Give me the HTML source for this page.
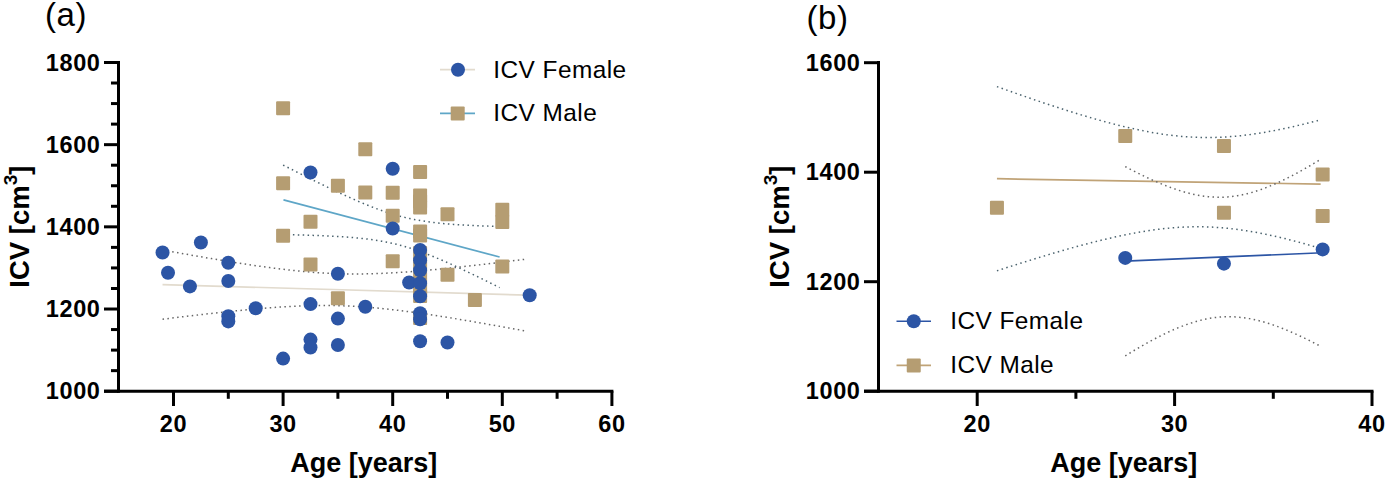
<!DOCTYPE html>
<html><head><meta charset="utf-8"><title>ICV vs Age</title>
<style>
html,body{margin:0;padding:0;background:#fff;}
body{width:1387px;height:480px;overflow:hidden;}
svg{display:block;}
text{font-family:"Liberation Sans",sans-serif;fill:#000;}
.tk{font-size:23.5px;font-weight:bold;letter-spacing:0.6px;}
.tt{font-size:27px;font-weight:bold;}
.sup{font-size:19px;}
.lg{font-size:24.4px;letter-spacing:0.45px;}
.pl{font-size:33px;letter-spacing:0.6px;}
</style></head>
<body>
<svg width="1387" height="480" viewBox="0 0 1387 480">
<rect width="1387" height="480" fill="#fff"/>
<line x1="162.54" y1="284.59" x2="527" y2="295.16" stroke="#e2dbce" stroke-width="1.7"/>
<line x1="283.5" y1="199.93" x2="499.6" y2="257.03" stroke="#5ea6c7" stroke-width="1.7"/>
<polyline points="162.54,249.94 165.6,250.5 168.67,251.06 171.73,251.61 174.79,252.16 177.85,252.72 180.92,253.26 183.98,253.81 187.04,254.35 190.1,254.9 193.17,255.44 196.23,255.97 199.29,256.51 202.35,257.04 205.42,257.56 208.48,258.09 211.54,258.61 214.61,259.13 217.67,259.64 220.73,260.15 223.79,260.66 226.86,261.16 229.92,261.66 232.98,262.15 236.04,262.64 239.11,263.12 242.17,263.6 245.23,264.07 248.3,264.54 251.36,264.99 254.42,265.45 257.48,265.89 260.55,266.33 263.61,266.76 266.67,267.19 269.73,267.6 272.8,268.01 275.86,268.4 278.92,268.79 281.98,269.16 285.05,269.53 288.11,269.88 291.17,270.23 294.24,270.56 297.3,270.88 300.36,271.18 303.42,271.47 306.49,271.75 309.55,272.01 312.61,272.26 315.67,272.49 318.74,272.71 321.8,272.9 324.86,273.09 327.93,273.25 330.99,273.4 334.05,273.53 337.11,273.65 340.18,273.75 343.24,273.82 346.3,273.89 349.36,273.93 352.43,273.96 355.49,273.97 358.55,273.96 361.61,273.93 364.68,273.89 367.74,273.84 370.8,273.77 373.87,273.68 376.93,273.58 379.99,273.47 383.05,273.34 386.12,273.19 389.18,273.04 392.24,272.87 395.3,272.7 398.37,272.51 401.43,272.31 404.49,272.1 407.56,271.88 410.62,271.65 413.68,271.41 416.74,271.16 419.81,270.91 422.87,270.65 425.93,270.38 428.99,270.1 432.06,269.82 435.12,269.53 438.18,269.24 441.24,268.94 444.31,268.63 447.37,268.32 450.43,268.01 453.5,267.69 456.56,267.36 459.62,267.03 462.68,266.7 465.75,266.36 468.81,266.02 471.87,265.68 474.93,265.33 478,264.98 481.06,264.63 484.12,264.27 487.19,263.91 490.25,263.55 493.31,263.18 496.37,262.82 499.44,262.45 502.5,262.08 505.56,261.7 508.62,261.33 511.69,260.95 514.75,260.57 517.81,260.19 520.87,259.81 523.94,259.42 527,259.04" fill="none" stroke="#666666" stroke-width="1.5" stroke-dasharray="1.5 3.4"/>
<polyline points="162.54,319.25 165.6,318.87 168.67,318.49 171.73,318.11 174.79,317.73 177.85,317.36 180.92,316.99 183.98,316.62 187.04,316.25 190.1,315.89 193.17,315.53 196.23,315.17 199.29,314.81 202.35,314.46 205.42,314.11 208.48,313.76 211.54,313.42 214.61,313.08 217.67,312.74 220.73,312.41 223.79,312.08 226.86,311.76 229.92,311.44 232.98,311.12 236.04,310.81 239.11,310.51 242.17,310.21 245.23,309.91 248.3,309.63 251.36,309.34 254.42,309.07 257.48,308.8 260.55,308.54 263.61,308.29 266.67,308.04 269.73,307.81 272.8,307.58 275.86,307.36 278.92,307.15 281.98,306.95 285.05,306.76 288.11,306.59 291.17,306.42 294.24,306.27 297.3,306.13 300.36,306 303.42,305.89 306.49,305.79 309.55,305.7 312.61,305.63 315.67,305.58 318.74,305.54 321.8,305.52 324.86,305.51 327.93,305.53 330.99,305.55 334.05,305.6 337.11,305.66 340.18,305.75 343.24,305.84 346.3,305.96 349.36,306.09 352.43,306.24 355.49,306.41 358.55,306.6 361.61,306.8 364.68,307.02 367.74,307.25 370.8,307.5 373.87,307.76 376.93,308.04 379.99,308.33 383.05,308.64 386.12,308.96 389.18,309.29 392.24,309.64 395.3,309.99 398.37,310.36 401.43,310.74 404.49,311.12 407.56,311.52 410.62,311.93 413.68,312.34 416.74,312.77 419.81,313.2 422.87,313.64 425.93,314.08 428.99,314.54 432.06,315 435.12,315.46 438.18,315.94 441.24,316.41 444.31,316.9 447.37,317.39 450.43,317.88 453.5,318.38 456.56,318.88 459.62,319.39 462.68,319.9 465.75,320.41 468.81,320.93 471.87,321.45 474.93,321.98 478,322.5 481.06,323.04 484.12,323.57 487.19,324.11 490.25,324.65 493.31,325.19 496.37,325.73 499.44,326.28 502.5,326.83 505.56,327.38 508.62,327.93 511.69,328.49 514.75,329.04 517.81,329.6 520.87,330.16 523.94,330.73 527,331.29" fill="none" stroke="#666666" stroke-width="1.5" stroke-dasharray="1.5 3.4"/>
<polyline points="283.1,165.06 285.29,166.17 287.47,167.29 289.66,168.4 291.85,169.5 294.03,170.61 296.22,171.72 298.41,172.82 300.59,173.92 302.78,175.01 304.97,176.11 307.16,177.2 309.34,178.29 311.53,179.37 313.72,180.45 315.9,181.53 318.09,182.61 320.28,183.68 322.46,184.74 324.65,185.81 326.84,186.86 329.02,187.91 331.21,188.96 333.4,190 335.58,191.04 337.77,192.07 339.96,193.09 342.15,194.1 344.33,195.11 346.52,196.11 348.71,197.1 350.89,198.09 353.08,199.06 355.27,200.02 357.45,200.97 359.64,201.91 361.83,202.84 364.01,203.75 366.2,204.65 368.39,205.54 370.57,206.41 372.76,207.26 374.95,208.1 377.14,208.92 379.32,209.72 381.51,210.5 383.7,211.26 385.88,212 388.07,212.72 390.26,213.41 392.44,214.08 394.63,214.73 396.82,215.36 399,215.96 401.19,216.53 403.38,217.09 405.56,217.61 407.75,218.12 409.94,218.6 412.13,219.06 414.31,219.5 416.5,219.91 418.69,220.3 420.87,220.68 423.06,221.03 425.25,221.36 427.43,221.68 429.62,221.98 431.81,222.27 433.99,222.53 436.18,222.79 438.37,223.03 440.55,223.26 442.74,223.47 444.93,223.67 447.12,223.87 449.3,224.05 451.49,224.22 453.68,224.39 455.86,224.54 458.05,224.69 460.24,224.83 462.42,224.96 464.61,225.09 466.8,225.21 468.98,225.32 471.17,225.43 473.36,225.53 475.54,225.63 477.73,225.72 479.92,225.81 482.11,225.9 484.29,225.98 486.48,226.05 488.67,226.13 490.85,226.2 493.04,226.26 495.23,226.33 497.41,226.39 499.6,226.45" fill="none" stroke="#4a626d" stroke-width="1.5" stroke-dasharray="1.5 3.4"/>
<polyline points="283.1,234.6 285.29,234.64 287.47,234.68 289.66,234.73 291.85,234.77 294.03,234.82 296.22,234.87 298.41,234.93 300.59,234.98 302.78,235.04 304.97,235.1 307.16,235.17 309.34,235.24 311.53,235.31 313.72,235.38 315.9,235.46 318.09,235.54 320.28,235.62 322.46,235.71 324.65,235.81 326.84,235.9 329.02,236.01 331.21,236.12 333.4,236.23 335.58,236.35 337.77,236.48 339.96,236.61 342.15,236.75 344.33,236.9 346.52,237.06 348.71,237.22 350.89,237.39 353.08,237.58 355.27,237.77 357.45,237.97 359.64,238.19 361.83,238.42 364.01,238.66 366.2,238.92 368.39,239.19 370.57,239.47 372.76,239.77 374.95,240.09 377.14,240.43 379.32,240.78 381.51,241.16 383.7,241.55 385.88,241.97 388.07,242.41 390.26,242.87 392.44,243.35 394.63,243.86 396.82,244.39 399,244.94 401.19,245.52 403.38,246.13 405.56,246.75 407.75,247.4 409.94,248.08 412.13,248.77 414.31,249.49 416.5,250.23 418.69,251 420.87,251.78 423.06,252.58 425.25,253.4 427.43,254.24 429.62,255.1 431.81,255.97 433.99,256.85 436.18,257.76 438.37,258.67 440.55,259.6 442.74,260.54 444.93,261.49 447.12,262.46 449.3,263.43 451.49,264.41 453.68,265.4 455.86,266.4 458.05,267.41 460.24,268.43 462.42,269.45 464.61,270.48 466.8,271.52 468.98,272.56 471.17,273.61 473.36,274.66 475.54,275.72 477.73,276.78 479.92,277.84 482.11,278.92 484.29,279.99 486.48,281.07 488.67,282.15 490.85,283.24 493.04,284.32 495.23,285.42 497.41,286.51 499.6,287.61" fill="none" stroke="#4a626d" stroke-width="1.5" stroke-dasharray="1.5 3.4"/>
<rect x="276.1" y="101.3" width="14" height="14" rx="1" fill="#b59d72"/>
<rect x="276.1" y="176.3" width="14" height="14" rx="1" fill="#b59d72"/>
<rect x="276.1" y="228.7" width="14" height="14" rx="1" fill="#b59d72"/>
<rect x="303.5" y="214.7" width="14" height="14" rx="1" fill="#b59d72"/>
<rect x="303.5" y="257.4" width="14" height="14" rx="1" fill="#b59d72"/>
<rect x="330.9" y="178.7" width="14" height="14" rx="1" fill="#b59d72"/>
<rect x="330.9" y="291.2" width="14" height="14" rx="1" fill="#b59d72"/>
<rect x="358.3" y="142.2" width="14" height="14" rx="1" fill="#b59d72"/>
<rect x="358.3" y="185.4" width="14" height="14" rx="1" fill="#b59d72"/>
<rect x="385.7" y="185.8" width="14" height="14" rx="1" fill="#b59d72"/>
<rect x="385.7" y="208.7" width="14" height="14" rx="1" fill="#b59d72"/>
<rect x="385.7" y="254.2" width="14" height="14" rx="1" fill="#b59d72"/>
<rect x="413.1" y="165" width="14" height="14" rx="1" fill="#b59d72"/>
<rect x="413.1" y="188.5" width="14" height="14" rx="1" fill="#b59d72"/>
<rect x="413.1" y="194.5" width="14" height="14" rx="1" fill="#b59d72"/>
<rect x="413.1" y="200.5" width="14" height="14" rx="1" fill="#b59d72"/>
<rect x="413.1" y="224.5" width="14" height="14" rx="1" fill="#b59d72"/>
<rect x="413.1" y="228.5" width="14" height="14" rx="1" fill="#b59d72"/>
<rect x="413.1" y="246" width="14" height="14" rx="1" fill="#b59d72"/>
<rect x="413.1" y="259" width="14" height="14" rx="1" fill="#b59d72"/>
<rect x="413.1" y="272" width="14" height="14" rx="1" fill="#b59d72"/>
<rect x="413.1" y="284" width="14" height="14" rx="1" fill="#b59d72"/>
<rect x="413.1" y="289" width="14" height="14" rx="1" fill="#b59d72"/>
<rect x="413.1" y="311" width="14" height="14" rx="1" fill="#b59d72"/>
<rect x="440.5" y="207.2" width="14" height="14" rx="1" fill="#b59d72"/>
<rect x="440.5" y="267.8" width="14" height="14" rx="1" fill="#b59d72"/>
<rect x="467.9" y="293" width="14" height="14" rx="1" fill="#b59d72"/>
<rect x="495.3" y="202.7" width="14" height="14" rx="1" fill="#b59d72"/>
<rect x="495.3" y="215" width="14" height="14" rx="1" fill="#b59d72"/>
<rect x="495.3" y="259.5" width="14" height="14" rx="1" fill="#b59d72"/>
<circle cx="162.54" cy="252.5" r="7" fill="#2c55a5"/>
<circle cx="168.02" cy="272.8" r="7" fill="#2c55a5"/>
<circle cx="189.94" cy="286.4" r="7" fill="#2c55a5"/>
<circle cx="200.9" cy="242.5" r="7" fill="#2c55a5"/>
<circle cx="228.3" cy="262.7" r="7" fill="#2c55a5"/>
<circle cx="228.3" cy="281" r="7" fill="#2c55a5"/>
<circle cx="228.3" cy="316.2" r="7" fill="#2c55a5"/>
<circle cx="228.3" cy="321.4" r="7" fill="#2c55a5"/>
<circle cx="255.7" cy="308.3" r="7" fill="#2c55a5"/>
<circle cx="283.1" cy="358.6" r="7" fill="#2c55a5"/>
<circle cx="310.5" cy="172.5" r="7" fill="#2c55a5"/>
<circle cx="310.5" cy="304.1" r="7" fill="#2c55a5"/>
<circle cx="310.5" cy="339.6" r="7" fill="#2c55a5"/>
<circle cx="310.5" cy="347.5" r="7" fill="#2c55a5"/>
<circle cx="337.9" cy="273.75" r="7" fill="#2c55a5"/>
<circle cx="337.9" cy="318.6" r="7" fill="#2c55a5"/>
<circle cx="337.9" cy="345" r="7" fill="#2c55a5"/>
<circle cx="365.3" cy="306.7" r="7" fill="#2c55a5"/>
<circle cx="392.7" cy="168.7" r="7" fill="#2c55a5"/>
<circle cx="392.7" cy="228.5" r="7" fill="#2c55a5"/>
<circle cx="409.14" cy="282.5" r="7" fill="#2c55a5"/>
<circle cx="420.1" cy="250" r="7" fill="#2c55a5"/>
<circle cx="420.1" cy="260.3" r="7" fill="#2c55a5"/>
<circle cx="420.1" cy="270.3" r="7" fill="#2c55a5"/>
<circle cx="420.1" cy="283.3" r="7" fill="#2c55a5"/>
<circle cx="420.1" cy="296.2" r="7" fill="#2c55a5"/>
<circle cx="420.1" cy="313.3" r="7" fill="#2c55a5"/>
<circle cx="420.1" cy="319.2" r="7" fill="#2c55a5"/>
<circle cx="420.1" cy="341.3" r="7" fill="#2c55a5"/>
<circle cx="447.5" cy="342.5" r="7" fill="#2c55a5"/>
<circle cx="529.7" cy="295.3" r="7" fill="#2c55a5"/>
<line x1="118.5" y1="61" x2="118.5" y2="392.7" stroke="#000000" stroke-width="3"/>
<line x1="104" y1="391.2" x2="613.4" y2="391.2" stroke="#000000" stroke-width="3"/>
<line x1="104" y1="391.2" x2="118.5" y2="391.2" stroke="#000000" stroke-width="3"/>
<line x1="104" y1="309.02" x2="118.5" y2="309.02" stroke="#000000" stroke-width="3"/>
<line x1="104" y1="226.84" x2="118.5" y2="226.84" stroke="#000000" stroke-width="3"/>
<line x1="104" y1="144.66" x2="118.5" y2="144.66" stroke="#000000" stroke-width="3"/>
<line x1="104" y1="62.48" x2="118.5" y2="62.48" stroke="#000000" stroke-width="3"/>
<line x1="111" y1="370.65" x2="118.5" y2="370.65" stroke="#000000" stroke-width="3"/>
<line x1="111" y1="350.11" x2="118.5" y2="350.11" stroke="#000000" stroke-width="3"/>
<line x1="111" y1="329.56" x2="118.5" y2="329.56" stroke="#000000" stroke-width="3"/>
<line x1="111" y1="288.48" x2="118.5" y2="288.48" stroke="#000000" stroke-width="3"/>
<line x1="111" y1="267.93" x2="118.5" y2="267.93" stroke="#000000" stroke-width="3"/>
<line x1="111" y1="247.38" x2="118.5" y2="247.38" stroke="#000000" stroke-width="3"/>
<line x1="111" y1="206.29" x2="118.5" y2="206.29" stroke="#000000" stroke-width="3"/>
<line x1="111" y1="185.75" x2="118.5" y2="185.75" stroke="#000000" stroke-width="3"/>
<line x1="111" y1="165.2" x2="118.5" y2="165.2" stroke="#000000" stroke-width="3"/>
<line x1="111" y1="124.12" x2="118.5" y2="124.12" stroke="#000000" stroke-width="3"/>
<line x1="111" y1="103.57" x2="118.5" y2="103.57" stroke="#000000" stroke-width="3"/>
<line x1="111" y1="83.02" x2="118.5" y2="83.02" stroke="#000000" stroke-width="3"/>
<line x1="173.5" y1="391.2" x2="173.5" y2="406" stroke="#000000" stroke-width="3"/>
<line x1="283.1" y1="391.2" x2="283.1" y2="406" stroke="#000000" stroke-width="3"/>
<line x1="392.7" y1="391.2" x2="392.7" y2="406" stroke="#000000" stroke-width="3"/>
<line x1="502.3" y1="391.2" x2="502.3" y2="406" stroke="#000000" stroke-width="3"/>
<line x1="611.9" y1="391.2" x2="611.9" y2="406" stroke="#000000" stroke-width="3"/>
<line x1="228.3" y1="391.2" x2="228.3" y2="398.8" stroke="#000000" stroke-width="3"/>
<line x1="337.9" y1="391.2" x2="337.9" y2="398.8" stroke="#000000" stroke-width="3"/>
<line x1="447.5" y1="391.2" x2="447.5" y2="398.8" stroke="#000000" stroke-width="3"/>
<line x1="557.1" y1="391.2" x2="557.1" y2="398.8" stroke="#000000" stroke-width="3"/>
<text x="173.5" y="432.3" class="tk" text-anchor="middle">20</text>
<text x="283.1" y="432.3" class="tk" text-anchor="middle">30</text>
<text x="392.7" y="432.3" class="tk" text-anchor="middle">40</text>
<text x="502.3" y="432.3" class="tk" text-anchor="middle">50</text>
<text x="611.9" y="432.3" class="tk" text-anchor="middle">60</text>
<text x="100.5" y="399.3" class="tk" text-anchor="end">1000</text>
<text x="100.5" y="317.12" class="tk" text-anchor="end">1200</text>
<text x="100.5" y="234.94" class="tk" text-anchor="end">1400</text>
<text x="100.5" y="152.76" class="tk" text-anchor="end">1600</text>
<text x="100.5" y="70.58" class="tk" text-anchor="end">1800</text>
<text x="363.7" y="471.8" class="tt" text-anchor="middle">Age [years]</text>
<text transform="translate(29.3,226.6) rotate(-90)" class="tt" style="font-size:27.5px" text-anchor="middle">ICV [cm<tspan class="sup" dy="-12.5">3</tspan><tspan dy="12.5">]</tspan></text>
<line x1="440" y1="69.7" x2="475" y2="69.7" stroke="#e2dbce" stroke-width="1.7"/>
<circle cx="458" cy="69.7" r="7" fill="#2c55a5"/>
<line x1="440" y1="113.3" x2="475" y2="113.3" stroke="#5ea6c7" stroke-width="1.7"/>
<rect x="450.7" y="106.4" width="14" height="14" rx="1" fill="#b59d72"/>
<text x="493.3" y="77.5" class="lg">ICV Female</text>
<text x="493.3" y="121.3" class="lg">ICV Male</text>
<text x="45" y="25.7" class="pl">(a)</text>
<line x1="996.94" y1="178.71" x2="1320.65" y2="184.12" stroke="#c0a377" stroke-width="1.7"/>
<line x1="1125.25" y1="261.21" x2="1322.65" y2="252.73" stroke="#2c55a5" stroke-width="1.7"/>
<polyline points="996.94,86.6 999.66,87.58 1002.37,88.55 1005.09,89.52 1007.8,90.48 1010.52,91.45 1013.24,92.4 1015.95,93.36 1018.67,94.31 1021.38,95.26 1024.1,96.2 1026.82,97.14 1029.53,98.08 1032.25,99.01 1034.96,99.94 1037.68,100.86 1040.4,101.78 1043.11,102.69 1045.83,103.6 1048.54,104.5 1051.26,105.4 1053.98,106.29 1056.69,107.18 1059.41,108.06 1062.13,108.93 1064.84,109.8 1067.56,110.66 1070.27,111.52 1072.99,112.37 1075.71,113.21 1078.42,114.04 1081.14,114.86 1083.85,115.68 1086.57,116.49 1089.29,117.29 1092,118.08 1094.72,118.86 1097.43,119.63 1100.15,120.39 1102.87,121.15 1105.58,121.89 1108.3,122.61 1111.01,123.33 1113.73,124.04 1116.45,124.73 1119.16,125.41 1121.88,126.08 1124.59,126.73 1127.31,127.37 1130.03,127.99 1132.74,128.6 1135.46,129.19 1138.17,129.77 1140.89,130.33 1143.61,130.87 1146.32,131.4 1149.04,131.91 1151.75,132.39 1154.47,132.86 1157.19,133.31 1159.9,133.74 1162.62,134.15 1165.34,134.53 1168.05,134.9 1170.77,135.24 1173.48,135.56 1176.2,135.86 1178.92,136.13 1181.63,136.38 1184.35,136.61 1187.06,136.81 1189.78,136.98 1192.5,137.14 1195.21,137.26 1197.93,137.36 1200.64,137.44 1203.36,137.49 1206.08,137.51 1208.79,137.51 1211.51,137.49 1214.22,137.44 1216.94,137.36 1219.66,137.26 1222.37,137.14 1225.09,136.99 1227.8,136.82 1230.52,136.62 1233.24,136.4 1235.95,136.16 1238.67,135.89 1241.38,135.61 1244.1,135.3 1246.82,134.97 1249.53,134.62 1252.25,134.25 1254.96,133.86 1257.68,133.45 1260.4,133.03 1263.11,132.58 1265.83,132.12 1268.55,131.64 1271.26,131.14 1273.98,130.63 1276.69,130.11 1279.41,129.56 1282.13,129.01 1284.84,128.44 1287.56,127.85 1290.27,127.26 1292.99,126.65 1295.71,126.03 1298.42,125.39 1301.14,124.75 1303.85,124.09 1306.57,123.42 1309.29,122.75 1312,122.06 1314.72,121.37 1317.43,120.66 1320.15,119.95" fill="none" stroke="#4a626d" stroke-width="1.5" stroke-dasharray="1.5 3.4"/>
<polyline points="996.94,270.82 999.66,269.93 1002.37,269.05 1005.09,268.18 1007.8,267.3 1010.52,266.43 1013.24,265.56 1015.95,264.7 1018.67,263.84 1021.38,262.98 1024.1,262.13 1026.82,261.28 1029.53,260.43 1032.25,259.59 1034.96,258.76 1037.68,257.92 1040.4,257.1 1043.11,256.27 1045.83,255.46 1048.54,254.64 1051.26,253.84 1053.98,253.04 1056.69,252.24 1059.41,251.45 1062.13,250.67 1064.84,249.89 1067.56,249.12 1070.27,248.35 1072.99,247.6 1075.71,246.85 1078.42,246.11 1081.14,245.37 1083.85,244.65 1086.57,243.93 1089.29,243.22 1092,242.52 1094.72,241.83 1097.43,241.15 1100.15,240.48 1102.87,239.82 1105.58,239.17 1108.3,238.53 1111.01,237.9 1113.73,237.29 1116.45,236.68 1119.16,236.1 1121.88,235.52 1124.59,234.96 1127.31,234.41 1130.03,233.88 1132.74,233.36 1135.46,232.86 1138.17,232.37 1140.89,231.9 1143.61,231.45 1146.32,231.01 1149.04,230.6 1151.75,230.2 1154.47,229.82 1157.19,229.46 1159.9,229.13 1162.62,228.81 1165.34,228.51 1168.05,228.24 1170.77,227.99 1173.48,227.76 1176.2,227.55 1178.92,227.37 1181.63,227.21 1184.35,227.08 1187.06,226.97 1189.78,226.88 1192.5,226.82 1195.21,226.79 1197.93,226.77 1200.64,226.79 1203.36,226.83 1206.08,226.9 1208.79,226.99 1211.51,227.1 1214.22,227.24 1216.94,227.41 1219.66,227.6 1222.37,227.82 1225.09,228.05 1227.8,228.32 1230.52,228.61 1233.24,228.92 1235.95,229.25 1238.67,229.6 1241.38,229.98 1244.1,230.38 1246.82,230.8 1249.53,231.24 1252.25,231.7 1254.96,232.18 1257.68,232.68 1260.4,233.2 1263.11,233.73 1265.83,234.29 1268.55,234.86 1271.26,235.44 1273.98,236.05 1276.69,236.66 1279.41,237.3 1282.13,237.94 1284.84,238.6 1287.56,239.28 1290.27,239.97 1292.99,240.67 1295.71,241.38 1298.42,242.1 1301.14,242.84 1303.85,243.59 1306.57,244.34 1309.29,245.11 1312,245.89 1314.72,246.67 1317.43,247.47 1320.15,248.27" fill="none" stroke="#4a626d" stroke-width="1.5" stroke-dasharray="1.5 3.4"/>
<polyline points="1125.25,166.58 1127.22,167.63 1129.19,168.66 1131.16,169.69 1133.12,170.7 1135.09,171.7 1137.06,172.7 1139.03,173.68 1141,174.65 1142.97,175.61 1144.94,176.55 1146.91,177.48 1148.87,178.4 1150.84,179.31 1152.81,180.2 1154.78,181.07 1156.75,181.93 1158.72,182.78 1160.69,183.6 1162.66,184.41 1164.62,185.2 1166.59,185.98 1168.56,186.73 1170.53,187.46 1172.5,188.18 1174.47,188.87 1176.44,189.54 1178.4,190.18 1180.37,190.81 1182.34,191.4 1184.31,191.98 1186.28,192.53 1188.25,193.05 1190.22,193.54 1192.19,194.01 1194.15,194.44 1196.12,194.85 1198.09,195.23 1200.06,195.57 1202.03,195.89 1204,196.17 1205.97,196.42 1207.93,196.64 1209.9,196.82 1211.87,196.97 1213.84,197.09 1215.81,197.17 1217.78,197.21 1219.75,197.22 1221.72,197.2 1223.68,197.13 1225.65,197.04 1227.62,196.9 1229.59,196.73 1231.56,196.53 1233.53,196.29 1235.5,196.01 1237.47,195.71 1239.43,195.36 1241.4,194.98 1243.37,194.57 1245.34,194.13 1247.31,193.65 1249.28,193.15 1251.25,192.61 1253.21,192.04 1255.18,191.44 1257.15,190.81 1259.12,190.16 1261.09,189.48 1263.06,188.77 1265.03,188.03 1267,187.27 1268.96,186.48 1270.93,185.67 1272.9,184.84 1274.87,183.99 1276.84,183.11 1278.81,182.21 1280.78,181.3 1282.74,180.36 1284.71,179.4 1286.68,178.43 1288.65,177.44 1290.62,176.43 1292.59,175.41 1294.56,174.37 1296.53,173.31 1298.49,172.24 1300.46,171.15 1302.43,170.06 1304.4,168.95 1306.37,167.82 1308.34,166.69 1310.31,165.54 1312.28,164.38 1314.24,163.21 1316.21,162.03 1318.18,160.84 1320.15,159.64" fill="none" stroke="#666666" stroke-width="1.5" stroke-dasharray="1.5 3.4"/>
<polyline points="1125.25,355.84 1127.22,354.63 1129.19,353.43 1131.16,352.23 1133.12,351.05 1135.09,349.88 1137.06,348.72 1139.03,347.57 1141,346.43 1142.97,345.3 1144.94,344.18 1146.91,343.08 1148.87,341.99 1150.84,340.92 1152.81,339.86 1154.78,338.82 1156.75,337.79 1158.72,336.77 1160.69,335.78 1162.66,334.8 1164.62,333.84 1166.59,332.9 1168.56,331.97 1170.53,331.07 1172.5,330.19 1174.47,329.33 1176.44,328.49 1178.4,327.68 1180.37,326.88 1182.34,326.12 1184.31,325.37 1186.28,324.66 1188.25,323.97 1190.22,323.3 1192.19,322.67 1194.15,322.06 1196.12,321.48 1198.09,320.94 1200.06,320.42 1202.03,319.94 1204,319.49 1205.97,319.07 1207.93,318.68 1209.9,318.33 1211.87,318.01 1213.84,317.72 1215.81,317.47 1217.78,317.26 1219.75,317.08 1221.72,316.94 1223.68,316.83 1225.65,316.76 1227.62,316.72 1229.59,316.72 1231.56,316.76 1233.53,316.83 1235.5,316.94 1237.47,317.07 1239.43,317.25 1241.4,317.46 1243.37,317.7 1245.34,317.97 1247.31,318.28 1249.28,318.62 1251.25,318.99 1253.21,319.39 1255.18,319.82 1257.15,320.27 1259.12,320.76 1261.09,321.27 1263.06,321.81 1265.03,322.38 1267,322.97 1268.96,323.59 1270.93,324.23 1272.9,324.89 1274.87,325.58 1276.84,326.28 1278.81,327.01 1280.78,327.76 1282.74,328.53 1284.71,329.31 1286.68,330.12 1288.65,330.94 1290.62,331.78 1292.59,332.64 1294.56,333.51 1296.53,334.39 1298.49,335.29 1300.46,336.21 1302.43,337.14 1304.4,338.08 1306.37,339.03 1308.34,340 1310.31,340.98 1312.28,341.97 1314.24,342.97 1316.21,343.98 1318.18,345 1320.15,346.03" fill="none" stroke="#666666" stroke-width="1.5" stroke-dasharray="1.5 3.4"/>
<rect x="989.94" y="200.79" width="14" height="14" rx="1" fill="#b59d72"/>
<rect x="1118.25" y="129.06" width="14" height="14" rx="1" fill="#b59d72"/>
<rect x="1216.95" y="138.92" width="14" height="14" rx="1" fill="#b59d72"/>
<rect x="1216.95" y="205.72" width="14" height="14" rx="1" fill="#b59d72"/>
<rect x="1315.65" y="167.39" width="14" height="14" rx="1" fill="#b59d72"/>
<rect x="1315.65" y="209" width="14" height="14" rx="1" fill="#b59d72"/>
<circle cx="1125.25" cy="257.88" r="7" fill="#2c55a5"/>
<circle cx="1223.95" cy="263.63" r="7" fill="#2c55a5"/>
<circle cx="1322.65" cy="249.4" r="7" fill="#2c55a5"/>
<line x1="878.5" y1="61" x2="878.5" y2="392.7" stroke="#000000" stroke-width="3"/>
<line x1="864" y1="391.2" x2="1373.5" y2="391.2" stroke="#000000" stroke-width="3"/>
<line x1="864" y1="391.2" x2="878.5" y2="391.2" stroke="#000000" stroke-width="3"/>
<line x1="864" y1="281.7" x2="878.5" y2="281.7" stroke="#000000" stroke-width="3"/>
<line x1="864" y1="172.2" x2="878.5" y2="172.2" stroke="#000000" stroke-width="3"/>
<line x1="864" y1="62.7" x2="878.5" y2="62.7" stroke="#000000" stroke-width="3"/>
<line x1="977.2" y1="391.2" x2="977.2" y2="406" stroke="#000000" stroke-width="3"/>
<line x1="1174.6" y1="391.2" x2="1174.6" y2="406" stroke="#000000" stroke-width="3"/>
<line x1="1372" y1="391.2" x2="1372" y2="406" stroke="#000000" stroke-width="3"/>
<line x1="1075.9" y1="391.2" x2="1075.9" y2="398.8" stroke="#000000" stroke-width="3"/>
<line x1="1273.3" y1="391.2" x2="1273.3" y2="398.8" stroke="#000000" stroke-width="3"/>
<text x="977.2" y="432.3" class="tk" text-anchor="middle">20</text>
<text x="1174.6" y="432.3" class="tk" text-anchor="middle">30</text>
<text x="1372" y="432.3" class="tk" text-anchor="middle">40</text>
<text x="860.5" y="399.3" class="tk" text-anchor="end">1000</text>
<text x="860.5" y="289.8" class="tk" text-anchor="end">1200</text>
<text x="860.5" y="180.3" class="tk" text-anchor="end">1400</text>
<text x="860.5" y="70.8" class="tk" text-anchor="end">1600</text>
<text x="1123.7" y="471.8" class="tt" text-anchor="middle">Age [years]</text>
<text transform="translate(789.3,226.6) rotate(-90)" class="tt" style="font-size:27.5px" text-anchor="middle">ICV [cm<tspan class="sup" dy="-12.5">3</tspan><tspan dy="12.5">]</tspan></text>
<line x1="896.5" y1="321.25" x2="931" y2="321.25" stroke="#2c55a5" stroke-width="1.7"/>
<circle cx="913.75" cy="321.25" r="7" fill="#2c55a5"/>
<line x1="896.5" y1="365.3" x2="931" y2="365.3" stroke="#c0a377" stroke-width="1.7"/>
<rect x="906.75" y="358.5" width="14" height="14" rx="1" fill="#b59d72"/>
<text x="950.2" y="329.3" class="lg">ICV Female</text>
<text x="950.2" y="372.8" class="lg">ICV Male</text>
<text x="806.5" y="28.6" class="pl">(b)</text>
</svg>
</body></html>
